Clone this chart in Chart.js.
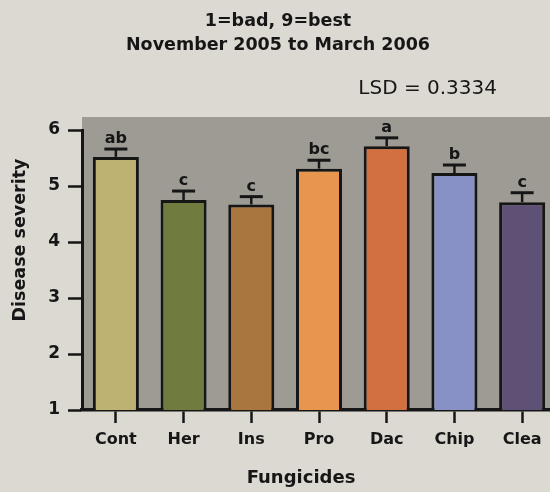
<!DOCTYPE html>
<html>
<head>
<meta charset="utf-8">
<script src="https://cdn.jsdelivr.net/npm/chart.js@4"></script>
<style>
  html, body { margin: 0; padding: 0; overflow: hidden; background: #dcd9d2; }
  canvas { display: block; }
</style>
</head>
<body>
<canvas id="severityChart" width="556" height="492"></canvas>
<script>
/* disease severity by fungicide - bar chart with error bars and letters */

// data
const fungicides = ["Cont", "Her", "Ins", "Pro", "Dac", "Chip", "Clea"];
const severity = [5.52, 4.75, 4.67, 5.31, 5.71, 5.23, 4.71];
const stdErr = [0.14, 0.16, 0.14, 0.15, 0.15, 0.145, 0.17];
const groups = ["ab", "c", "c", "bc", "a", "b", "c"];
const yTicks = [1, 2, 3, 4, 5, 6];
const barColors = ["#bdb271", "#6f7b3f", "#a9763f", "#e8964f", "#d2703f", "#8791c6", "#5f5075"];

const FONT = "'DejaVu Sans', sans-serif";
const INK = "#161616";

// page background + gray plot panel (panel sticks out above the 6 tick)
const panelPlugin = {
  id: "panel",
  beforeDraw(chart) {
    const { ctx, chartArea } = chart;
    ctx.save();
    ctx.fillStyle = "#dcd9d2";
    ctx.fillRect(0, 0, chart.width, chart.height);
    ctx.fillStyle = "#9d9b93";
    ctx.fillRect(chartArea.left, chartArea.top - 13, chartArea.right - chartArea.left, chartArea.bottom - chartArea.top + 13);
    ctx.restore();
  }
};

// error bars and significance letters
const errorPlugin = {
  id: "errors",
  afterDatasetsDraw(chart) {
    const { ctx } = chart;
    const y = chart.scales.y;
    const meta = chart.getDatasetMeta(0);
    ctx.save();
    ctx.strokeStyle = INK;
    ctx.fillStyle = INK;
    meta.data.forEach((bar, i) => {
      const top = y.getPixelForValue(severity[i] + stdErr[i]);
      ctx.lineWidth = 2.5;
      ctx.beginPath();
      ctx.moveTo(bar.x, bar.y);
      ctx.lineTo(bar.x, top);
      ctx.stroke();
      ctx.lineWidth = 3;
      ctx.beginPath();
      ctx.moveTo(bar.x - 11.5, top);
      ctx.lineTo(bar.x + 11.5, top);
      ctx.stroke();
      ctx.font = "bold 16px " + FONT;
      ctx.textAlign = "center";
      ctx.textBaseline = "alphabetic";
      ctx.fillText(groups[i], bar.x, top - 6);
    });
    ctx.restore();
  }
};

// axis titles and LSD note
const labelsPlugin = {
  id: "labels",
  afterDraw(chart) {
    const { ctx } = chart;
    ctx.save();
    ctx.fillStyle = INK;
    ctx.textAlign = "center";
    ctx.textBaseline = "middle";
    ctx.font = "bold 18px " + FONT;
    ctx.fillText("Fungicides", 301, 478);
    ctx.font = "normal 20px " + FONT;
    ctx.textAlign = "right";
    ctx.fillText("LSD = 0.3334", 497, 89);
    ctx.translate(20, 240);
    ctx.rotate(-Math.PI / 2);
    ctx.textAlign = "center";
    ctx.font = "bold 17.5px " + FONT;
    ctx.fillText("Disease severity", 0, 0);
    ctx.restore();
  }
};

new Chart(document.getElementById("severityChart"), {
  type: "bar",
  data: {
    labels: fungicides,
    datasets: [{
      data: severity,
      backgroundColor: barColors,
      borderColor: INK,
      borderWidth: 3,
      borderSkipped: false,
      barPercentage: 0.68,
      categoryPercentage: 1
    }]
  },
  options: {
    responsive: false,
    animation: false,
    layout: { padding: 0 },
    plugins: {
      legend: { display: false },
      tooltip: { enabled: false },
      title: {
        display: true,
        text: ["1=bad, 9=best", "November 2005 to March 2006"],
        color: INK,
        font: { family: FONT, size: 17.5, weight: "bold", lineHeight: 1.4 },
        padding: { top: 9, bottom: 72 }
      }
    },
    scales: {
      x: {
        afterFit: s => { s.height = 82; },
        border: { display: true, color: INK, width: 3.5 },
        grid: { offset: false, drawOnChartArea: false, drawTicks: true, tickLength: 13, tickColor: INK, tickWidth: 2.5 },
        ticks: { color: INK, padding: 7, font: { family: FONT, size: 16, weight: "bold" } }
      },
      y: {
        min: 1,
        max: 6,
        afterFit: s => { s.width = 82; },
        afterBuildTicks: s => { s.ticks = yTicks.map(v => ({ value: v })); },
        border: { display: true, color: INK, width: 3 },
        grid: { drawOnChartArea: false, drawTicks: true, tickLength: 14, tickColor: INK, tickWidth: 2.5 },
        ticks: { color: INK, padding: 8, font: { family: FONT, size: 17, weight: "bold" } }
      }
    }
  },
  plugins: [panelPlugin, errorPlugin, labelsPlugin]
});
</script>
</body>
</html>
